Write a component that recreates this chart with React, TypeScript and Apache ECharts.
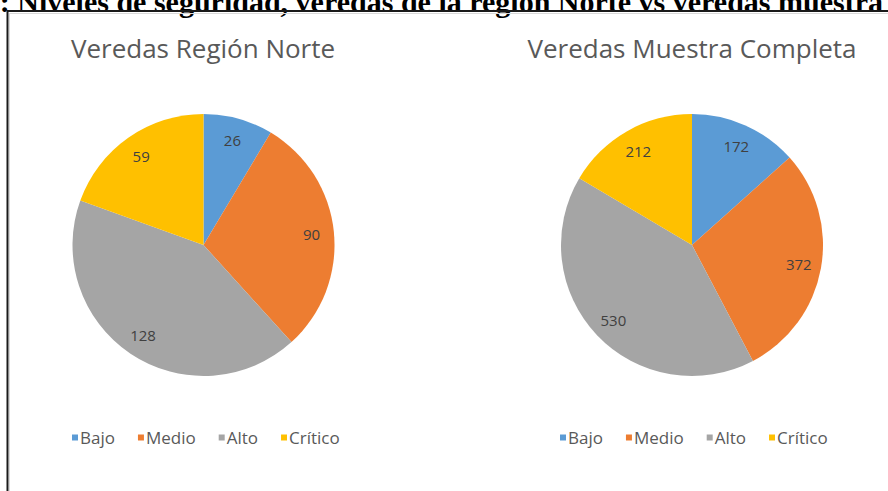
import React, { useEffect, useRef } from "react";
import * as echarts from "echarts";

const categories = ["Bajo", "Medio", "Alto", "Crítico"];
const norteValues = [26, 90, 128, 59];
const muestraValues = [172, 372, 530, 212];
const chartTitles = ["Veredas Región Norte", "Veredas Muestra Completa"];
const figureCaption =
  "Gráfico 3: Niveles de seguridad, veredas de la región Norte vs veredas muestra completa";
const colors = ["#5B9BD5", "#ED7D31", "#A5A5A5", "#FFC000"];

const FONT = "'Open Sans', 'Noto Sans', sans-serif";

function pieSeries(values: number[], cx: number, withLabels: boolean) {
  const data = categories.map((c, i) => ({ name: c, value: values[i] }));
  if (!withLabels) {
    return {
      type: "pie",
      center: [cx, 245],
      radius: [0, 131],
      startAngle: 90,
      clockwise: true,
      silent: true,
      label: { show: false },
      labelLine: { show: false },
      itemStyle: { borderWidth: 0 },
      emphasis: { disabled: true },
      data,
    };
  }
  return {
    type: "pie",
    center: [cx, 245],
    radius: [80, 131],
    startAngle: 90,
    clockwise: true,
    silent: true,
    itemStyle: { color: "rgba(0,0,0,0)", borderWidth: 0 },
    label: {
      show: true,
      position: "inside",
      color: "#404040",
      fontSize: 15,
      fontFamily: FONT,
      formatter: "{c}",
    },
    labelLine: { show: false },
    emphasis: { disabled: true },
    data,
  };
}

function legendAt(left: number) {
  return {
    data: categories,
    left,
    top: 424,
    itemWidth: 6,
    itemHeight: 6,
    itemGap: 23,
    icon: "rect",
    selectedMode: false,
    textStyle: { color: "#595959", fontSize: 17, fontFamily: FONT, padding: [0, 0, 0, -3] },
  };
}

export default function App() {
  const ref = useRef<HTMLDivElement>(null);
  useEffect(() => {
    if (!ref.current) return;
    const chart = echarts.init(ref.current, undefined, { renderer: "svg" });
    chart.setOption({
      animation: false,
      color: colors,
      backgroundColor: "#ffffff",
      title: [
        {
          text: chartTitles[0],
          left: 198,
          top: 30,
          textAlign: "center",
          textStyle: { color: "#595959", fontSize: 26, fontWeight: "normal", fontFamily: FONT },
        },
        {
          text: chartTitles[1],
          left: 687,
          top: 30,
          textAlign: "center",
          textStyle: { color: "#595959", fontSize: 26, fontWeight: "normal", fontFamily: FONT },
        },
      ],
      legend: [legendAt(67), legendAt(555)],
      graphic: [
        {
          type: "text",
          x: -121,
          y: -13.5,
          style: {
            text: figureCaption,
            fill: "#000000",
            font: "bold 30px 'Liberation Serif', 'DejaVu Serif', serif",
            textAlign: "left",
            textVerticalAlign: "top",
          },
        },
        {
          type: "line",
          shape: { x1: 7, y1: 11, x2: 888, y2: 11 },
          style: { stroke: "#1a1a1a", lineWidth: 2 },
        },
        {
          type: "line",
          shape: { x1: 7.5, y1: 10, x2: 7.5, y2: 491 },
          style: { stroke: "#1a1a1a", lineWidth: 2 },
        },
        {
          type: "line",
          shape: { x1: 9.5, y1: 13, x2: 9.5, y2: 491 },
          style: { stroke: "#d9d9d9", lineWidth: 1 },
        },
        {
          type: "line",
          shape: { x1: 9, y1: 13.5, x2: 888, y2: 13.5 },
          style: { stroke: "#d9d9d9", lineWidth: 1 },
        },
      ],
      series: [
        pieSeries(norteValues, 203.5, false),
        pieSeries(muestraValues, 692, false),
        pieSeries(norteValues, 203.5, true),
        pieSeries(muestraValues, 692, true),
      ],
    });
    return () => chart.dispose();
  }, []);
  return (
    <div
      ref={ref}
      style={{ position: "fixed", left: 0, top: 0, width: 888, height: 491 }}
    />
  );
}
